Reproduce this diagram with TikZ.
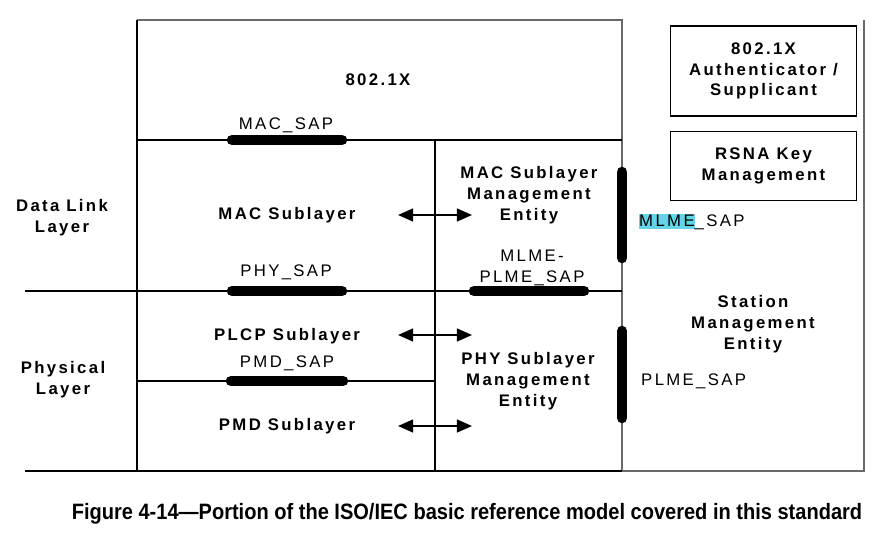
\documentclass[tikz,border=0pt]{standalone}
\usepackage{fontspec}
\setmainfont{Liberation Sans}
\newfontfamily\spacedfont[LetterSpace=14]{Liberation Sans}
\newfontfamily\captionfont[FakeStretch=0.9]{Liberation Sans}
\usetikzlibrary{arrows.meta}
\definecolor{framegray}{RGB}{105,105,105}
\definecolor{hilite}{RGB}{100,212,232}
\tikzset{
	layer/.style = {font=\spacedfont\bfseries\fontsize{14.3}{17.8}\selectfont, align=center, inner sep=0pt},
	saplabel/.style = {font=\spacedfont\fontsize{14.3}{17.8}\selectfont, align=center, inner sep=0pt},
	sapbar/.style = {line width=9pt, line cap=round},
	thin/.style = {line width=1.1pt},
	frame/.style = {line width=1.6pt, framegray},
	exchange/.style = {{Triangle[length=13pt,width=11pt]}-{Triangle[length=13pt,width=11pt]}, line width=1.7pt},
}
\begin{document}
\begin{tikzpicture}[x=0.03cm, y=-0.03cm]
	\useasboundingbox (0,0) rectangle (882,545);
	% frame
	\draw[frame] (137,20) -- (622,20) -- (622,471);
	\draw[frame] (864,20) -- (864,471) -- (622,471);
	\draw[thin] (137,20) -- (137,471);
	\draw[thin] (435,140) -- (435,471);
	\draw[thin] (137,140) -- (622,140);
	\draw[thin] (25,291) -- (622,291);
	\draw[thin] (137,381) -- (435,381);
	\draw[thin] (25,471) -- (622,471);
	% service access points
	\draw[sapbar] (232,140) -- (342,140);
	\draw[sapbar] (232,291) -- (342,291);
	\draw[sapbar] (231,381) -- (343,381);
	\draw[sapbar] (474,291) -- (584,291);
	\draw[sapbar] (622,172) -- (622,258);
	\draw[sapbar] (622,331) -- (622,418);
	\node (macsap) at (286,125) [saplabel] {MAC\_SAP};
	\node (physap) at (286,272) [saplabel] {PHY\_SAP};
	\node (pmdsap) at (287,363) [saplabel] {PMD\_SAP};
	\node (mlmeplme) at (532,268) [saplabel] {MLME-\\PLME\_SAP};
	\node (mlmesap) at (639,222) [saplabel, anchor=west] {%
		\setlength{\fboxsep}{0pt}\colorbox{hilite}{\rule[-2pt]{0pt}{12.5pt}MLME}\_SAP};
	\node (plmesap) at (641,381) [saplabel, anchor=west] {PLME\_SAP};
	% layers
	\node (dot1x) at (378,80) [layer] {802.1X};
	\node (datalink) at (62,218) [layer] {Data Link\\Layer};
	\node (physical) at (63,380) [layer] {Physical\\Layer};
	\node (macsub) at (287,215) [layer] {MAC Sublayer};
	\node (plcpsub) at (287,336) [layer] {PLCP Sublayer};
	\node (pmdsub) at (287,426) [layer] {PMD Sublayer};
	\node (mlme) at (529,195) [layer] {MAC Sublayer\\Management\\Entity};
	\node (plme) at (528,381) [layer] {PHY Sublayer\\Management\\Entity};
	\node (sme) at (753,324) [layer] {Station\\Management\\Entity};
	\node (auth) at (763.5,71) [layer, draw, thin, minimum width=186*0.03cm, minimum height=90*0.03cm] {802.1X\\Authenticator /\\Supplicant};
	\node (rsna) at (763.5,166) [layer, draw, thin, minimum width=186*0.03cm, minimum height=69*0.03cm] {RSNA Key\\Management};
	% exchanges with the management entities
	\foreach \y/\n in {215/mac, 335/plcp, 426/pmd} {
		\coordinate (\n l) at (398,\y);
		\coordinate (\n r) at (472,\y);
		\draw[exchange] (\n l) -- (\n r);
	}
	\node (caption) at (467,514) [font=\captionfont\bfseries\fontsize{19}{22}\selectfont] {Figure 4-14—Portion of the ISO/IEC basic reference model covered in this standard};
\end{tikzpicture}
\end{document}
